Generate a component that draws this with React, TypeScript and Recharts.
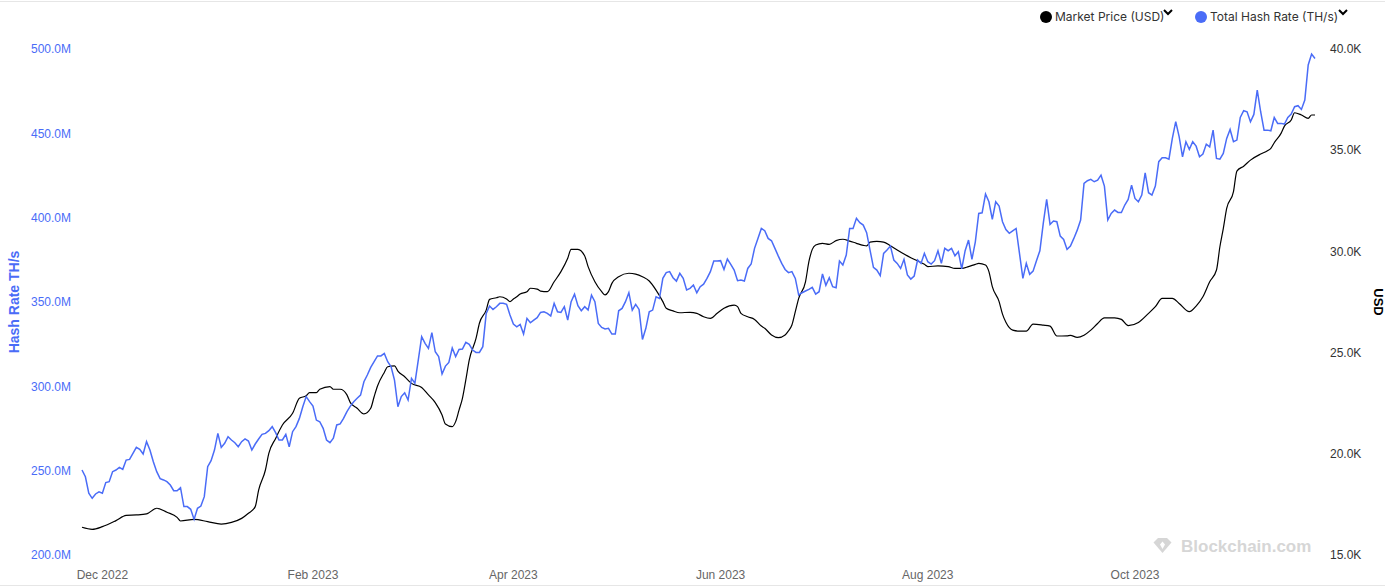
import React from 'react';
import { LineChart, Line, XAxis, YAxis } from 'recharts';

const START = Date.UTC(2022, 10, 25);
const DAY = 86400000;

// Total hash rate, millions TH/s, one value per day from 25 Nov 2022
const hashRateM: number[] = [
  250.4, 246.4, 236.6, 233.6, 236.2, 237.5, 236.6, 242.9, 243.5, 249.4,
  250.4, 252.0, 250.8, 256.3, 256.7, 260.3, 263.8, 262.6, 259.9, 267.2,
  262.2, 255.3, 249.4, 245.3, 244.5, 243.5, 241.5, 238.1, 238.1, 239.9,
  228.7, 228.7, 227.1, 221.1, 227.7, 229.0, 234.6, 252.4, 255.9, 262.2,
  272.1, 263.8, 266.2, 270.1, 268.2, 266.6, 264.2, 267.2, 268.8, 267.6,
  262.2, 265.8, 268.8, 271.5, 272.1, 273.7, 276.1, 272.5, 268.2, 268.2,
  271.5, 264.2, 273.1, 276.1, 281.0, 287.9, 293.9, 290.9, 288.3, 280.0,
  279.0, 275.1, 268.2, 266.6, 269.2, 277.1, 277.7, 281.0, 285.0, 288.3,
  290.9, 292.9, 294.8, 302.7, 306.7, 311.2, 314.6, 318.0, 318.0, 319.5,
  314.6, 311.6, 303.7, 287.9, 293.9, 296.2, 291.9, 304.7, 301.8, 315.6,
  329.4, 325.5, 322.5, 331.8, 320.5, 317.6, 307.3, 312.0, 314.2, 322.7,
  317.6, 321.9, 322.1, 326.1, 324.9, 321.5, 320.1, 320.1, 323.5, 343.2,
  347.6, 345.6, 347.2, 349.2, 349.2, 348.6, 342.3, 336.9, 335.3, 336.7,
  331.0, 340.3, 337.7, 339.3, 340.7, 343.8, 344.2, 343.3, 341.7, 349.2,
  344.2, 343.8, 347.2, 339.3, 350.2, 354.7, 347.8, 344.8, 347.2, 345.2,
  354.1, 350.2, 337.3, 334.9, 334.0, 334.4, 331.0, 331.0, 344.8, 346.2,
  350.2, 355.5, 345.2, 348.6, 345.6, 327.8, 334.4, 344.2, 345.2, 353.1,
  352.1, 364.0, 367.4, 368.0, 364.4, 362.4, 367.0, 364.0, 357.1, 358.1,
  360.1, 355.5, 359.1, 360.6, 364.0, 368.0, 374.3, 374.3, 374.5, 369.3,
  375.5, 372.3, 368.9, 362.6, 363.0, 362.4, 369.9, 372.5, 381.8, 387.7,
  393.6, 392.3, 387.7, 386.3, 381.8, 377.2, 372.9, 369.3, 367.4, 368.0,
  364.0, 354.1, 355.5, 356.5, 357.5, 358.7, 354.7, 356.1, 366.6, 359.9,
  364.4, 359.1, 358.5, 374.3, 371.9, 377.8, 393.6, 393.6, 399.6, 397.0,
  395.6, 391.1, 380.8, 370.5, 368.9, 365.6, 378.8, 380.8, 383.2, 374.9,
  372.9, 369.9, 375.3, 366.0, 363.6, 365.4, 374.9, 372.9, 378.8, 373.9,
  372.5, 374.5, 380.4, 372.9, 381.8, 380.4, 381.8, 377.4, 379.8, 369.7,
  380.4, 386.7, 375.3, 385.7, 402.5, 402.9, 414.0, 409.4, 399.0, 409.4,
  406.9, 397.6, 393.0, 390.7, 392.2, 393.6, 378.8, 364.0, 372.9, 366.4,
  368.3, 374.5, 380.4, 396.6, 410.8, 396.0, 398.0, 397.6, 389.1, 387.1,
  381.2, 383.2, 387.7, 392.6, 398.6, 420.3, 421.9, 422.7, 421.3, 422.3,
  425.2, 418.7, 398.6, 402.5, 404.5, 403.1, 403.1, 407.5, 410.8, 419.3,
  411.4, 409.4, 413.4, 426.6, 414.8, 413.4, 418.7, 433.2, 435.5, 435.5,
  434.7, 447.0, 456.9, 448.0, 436.1, 445.0, 440.5, 445.0, 442.4, 436.1,
  437.7, 443.6, 442.0, 451.9, 435.1, 434.7, 438.1, 447.0, 452.3, 445.0,
  446.0, 459.4, 463.4, 462.8, 456.9, 461.2, 475.6, 462.8, 451.9, 451.9,
  451.5, 459.4, 455.9, 455.9, 455.5, 459.4, 461.4, 465.8, 466.4, 464.2,
  469.7, 490.5, 497.0, 494.4,
];

// Market price (USD, thousands), read at these day offsets
const priceDays: number[] = [
  0, 3, 6, 10, 13, 16, 19, 22, 25, 28, 29, 33, 37, 41, 44, 47, 49, 51, 52, 54,
  55, 57, 59, 62, 64, 66, 67, 69, 70, 73, 74, 76, 78, 79, 81, 83, 85, 86, 87, 89,
  90, 92, 93, 95, 97, 100, 102, 104, 106, 107, 109, 110, 111, 112, 113, 114, 116, 117, 119, 120,
  122, 123, 125, 126, 127, 128, 129, 131, 132, 134, 135, 137, 139, 141, 143, 144, 146, 148, 149, 151,
  153, 154, 155, 156, 158, 161, 163, 165, 167, 169, 171, 172, 174, 176, 179, 181, 183, 185, 187, 189,
  192, 193, 194, 196, 198, 200, 201, 203, 205, 207, 208, 209, 210, 211, 213, 214, 215, 216, 218, 220,
  222, 224, 226, 228, 230, 231, 232, 234, 236, 238, 240, 242, 244, 246, 248, 249, 252, 255, 257, 259,
  261, 263, 264, 266, 267, 268, 270, 271, 272, 274, 276, 278, 280, 283, 285, 287, 290, 291, 293, 295,
  297, 299, 301, 304, 306, 308, 311, 314, 316, 318, 321, 323, 326, 328, 330, 332, 334, 335, 336, 337,
  339, 340, 342, 344, 347, 349, 350, 351, 353, 354, 356, 357, 359, 361, 362, 363,
];
const priceK: number[] = [
  16.37, 16.27, 16.40, 16.70, 16.96, 16.98, 17.03, 17.31, 17.11, 16.86, 16.68, 16.76, 16.65, 16.53, 16.61, 16.81, 17.06, 17.39, 18.21, 19.20,
  20.02, 20.76, 21.42, 22.00, 22.74, 22.87, 23.02, 23.02, 23.19, 23.32, 23.19, 23.19, 22.91, 22.53, 22.25, 21.97, 22.25, 22.82, 23.35, 24.02,
  24.30, 24.34, 24.09, 23.81, 23.48, 23.28, 22.91, 22.53, 21.92, 21.47, 21.34, 21.59, 22.16, 22.74, 23.65, 24.63, 25.70, 26.45, 27.10, 27.63,
  27.71, 27.76, 27.65, 27.52, 27.65, 27.76, 27.90, 28.01, 28.18, 28.14, 28.04, 28.01, 28.50, 29.00, 29.66, 30.10, 30.10, 29.77, 29.25, 28.50,
  28.01, 27.85, 28.01, 28.42, 28.75, 28.92, 28.88, 28.75, 28.54, 28.09, 27.52, 27.19, 27.06, 26.97, 26.99, 26.94, 26.77, 26.69, 26.94, 27.19,
  27.35, 27.27, 26.94, 26.77, 26.64, 26.31, 26.20, 25.87, 25.74, 25.87, 26.08, 26.36, 27.02, 27.68, 28.50, 29.49, 30.10, 30.32, 30.40, 30.35,
  30.53, 30.60, 30.51, 30.40, 30.30, 30.27, 30.46, 30.50, 30.46, 30.28, 30.07, 29.87, 29.69, 29.53, 29.36, 29.25, 29.28, 29.25, 29.16, 29.16,
  29.25, 29.36, 29.41, 29.33, 29.00, 28.26, 27.52, 26.90, 26.50, 26.11, 26.06, 26.06, 26.41, 26.36, 26.31, 25.82, 25.83, 25.85, 25.75, 25.86,
  26.11, 26.44, 26.72, 26.72, 26.64, 26.33, 26.49, 26.94, 27.27, 27.68, 27.68, 27.43, 27.02, 27.30, 27.76, 28.50, 29.08, 30.23, 31.13, 32.12,
  32.95, 33.97, 34.21, 34.51, 34.81, 34.97, 35.09, 35.37, 35.83, 36.19, 36.49, 36.85, 36.74, 36.57, 36.74, 36.74,
];

const monthTickDates: [number, number][] = [[2022, 11], [2023, 1], [2023, 3], [2023, 5], [2023, 7], [2023, 9]];
const monthTickLabels: string[] = ['Dec 2022', 'Feb 2023', 'Apr 2023', 'Jun 2023', 'Aug 2023', 'Oct 2023'];
const hashTicks: number[] = [200, 250, 300, 350, 400, 450, 500];
const priceTicks: number[] = [15, 20, 25, 30, 35, 40];

const BLUE = '#4a6cf7';
const FONT = '"Liberation Sans", Arial, Helvetica, sans-serif';

const xTicks = monthTickDates.map(([y, m]) => Math.round((Date.UTC(y, m, 1) - START) / DAY));
const xLabelOf: Record<number, string> = {};
xTicks.forEach((t, i) => { xLabelOf[t] = monthTickLabels[i]; });

type Row = { day: number; hash: number; price: number | null };
const data: Row[] = hashRateM.map((h, i) => ({ day: i, hash: h, price: null }));
priceDays.forEach((d, j) => { if (data[d]) data[d].price = priceK[j]; });

const Chevron = ({ left }: { left: number }) => (
  <svg style={{ position: 'absolute', left, top: 8 }} width={10} height={8}>
    <path d="M1 2 L5 6 L9 2" fill="none" stroke="#000" strokeWidth={2} />
  </svg>
);

const LegendOverlay = () => (
  <div style={{ position: 'absolute', left: 0, top: 0, width: 1385, height: 34, fontFamily: 'Inter, "Liberation Sans", Arial, sans-serif', fontSize: 12, color: '#333' }}>
    <div style={{ position: 'absolute', left: 1040, top: 11, width: 12, height: 12, borderRadius: 6, background: '#000' }} />
    <div style={{ position: 'absolute', left: 1055, top: 9, lineHeight: '16px', whiteSpace: 'nowrap' }}>Market Price (USD)</div>
    <Chevron left={1163} />
    <div style={{ position: 'absolute', left: 1195, top: 11, width: 12, height: 12, borderRadius: 6, background: BLUE }} />
    <div style={{ position: 'absolute', left: 1210, top: 9, lineHeight: '16px', whiteSpace: 'nowrap' }}>Total Hash Rate (TH/s)</div>
    <Chevron left={1338} />
  </div>
);

const Watermark = () => (
  <svg style={{ position: 'absolute', left: 1150, top: 530 }} width={175} height={30}>
    <g fill="#d6d6d6">
      <polygon points="8,8 17,8 21.5,12.5 12.5,23 3.5,12.5" />
    </g>
    <g fill="#ffffff">
      <polygon points="12.5,11.5 15,14.5 12.5,19 10,14.5" />
    </g>
    <text x={31} y={22} fontFamily={FONT} fontWeight={700} fontSize={17} fill="#d6d6d6">Blockchain.com</text>
  </svg>
);

const XTick = (props: any) => {
  const { x, y, payload } = props;
  return (
    <text x={x} y={y} dy="0.71em" textAnchor="middle" fontFamily={FONT} fontSize={12} fill="#666">
      {xLabelOf[payload.value] ?? ''}
    </text>
  );
};

export default function App() {
  return (
    <div style={{ position: 'absolute', left: 0, top: 0, width: 1385, height: 588, background: '#fff', overflow: 'hidden' }}>
      <div style={{ position: 'absolute', left: 0, top: 1, width: 1385, height: 1, background: '#e6e6e6' }} />
      <div style={{ position: 'absolute', left: 0, top: 585, width: 1385, height: 1, background: '#e6e6e6' }} />
      <LineChart
        width={1385}
        height={588}
        data={data}
        margin={{ top: 49, right: 0, bottom: 3, left: 0 }}
        style={{ position: 'absolute', left: 0, top: 0 }}
      >
        <XAxis
          dataKey="day"
          type="number"
          domain={[0, 363]}
          ticks={xTicks}
          interval={0}
          axisLine={false}
          tickLine={false}
          tickMargin={9}
          height={30}
          tick={<XTick />}
        />
        <YAxis
          yAxisId="hash"
          orientation="left"
          width={82}
          domain={[200, 500]}
          ticks={hashTicks}
          interval={0}
          axisLine={false}
          tickLine={false}
          tickMargin={5}
          allowDataOverflow
          tickFormatter={(v: number) => `${v.toFixed(1)}M`}
          tick={{ fill: BLUE, fontSize: 12, fontFamily: FONT }}
          label={{
            content: () => (
              <text x={19} y={302} transform="rotate(-90 19 302)" textAnchor="middle" fontFamily={FONT} fontWeight={700} fontSize={14} fill={BLUE}>
                Hash Rate TH/s
              </text>
            ),
          }}
        />
        <YAxis
          yAxisId="price"
          orientation="right"
          width={70}
          domain={[15, 40]}
          ticks={priceTicks}
          interval={0}
          axisLine={false}
          tickLine={false}
          tickMargin={9}
          allowDataOverflow
          tickFormatter={(v: number) => `${v.toFixed(1)}K`}
          tick={{ fill: '#333', fontSize: 12, fontFamily: FONT }}
          label={{
            content: () => (
              <text x={1374} y={302} transform="rotate(90 1374 302)" textAnchor="middle" fontFamily={FONT} fontWeight={700} fontSize={13} fill="#000">
                USD
              </text>
            ),
          }}
        />
        <Line
          yAxisId="price"
          dataKey="price"
          type="monotone"
          stroke="#000"
          strokeWidth={1.2}
          dot={false}
          connectNulls
          isAnimationActive={false}
        />
        <Line
          yAxisId="hash"
          dataKey="hash"
          type="linear"
          stroke={BLUE}
          strokeWidth={1.5}
          dot={false}
          isAnimationActive={false}
        />
      </LineChart>
      <LegendOverlay />
      <Watermark />
    </div>
  );
}
